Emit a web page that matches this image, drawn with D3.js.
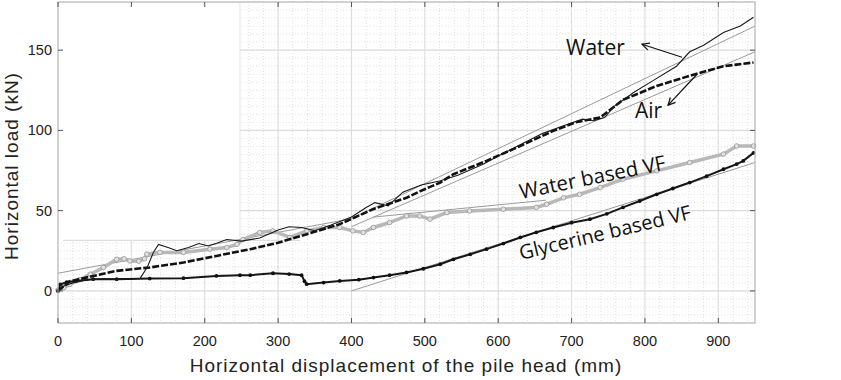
<!DOCTYPE html>
<html>
  <head>
    <meta charset="utf-8">
    <script src="https://cdnjs.cloudflare.com/ajax/libs/d3/7.8.5/d3.min.js"></script>
    <style type="text/css">
    body { margin: 0; background: #fff; }
    .tick-label { font-family: "Liberation Sans", Arial, sans-serif; font-size: 14.5px; fill: #222; }
    .axis-title { font-family: "Liberation Sans", Arial, sans-serif; font-size: 19px; fill: #222; letter-spacing: 1px; }
    .note { font-family: "Open Sans", sans-serif; font-size: 21px; fill: #111; }
    </style>
  </head>
  <body>
    <script type="text/javascript">
      // tick labels
      var xTicks = [0, 100, 200, 300, 400, 500, 600, 700, 800, 900];
      var yTicks = [0, 50, 100, 150];

      // Water (thin black line)
      var waterX = [0, 8, 20, 40, 60, 80, 100, 112, 122, 130, 137, 150, 162, 178, 192, 205, 218, 230, 250, 275, 300, 315, 332, 350, 372, 400, 420, 432, 450, 470, 495, 520, 545, 580, 600, 630, 660, 690, 715, 730, 745, 758, 784, 811, 843, 861, 880, 907, 930, 948];
      var waterY = [0, 3, 5, 7, 7.5, 7.5, 7.5, 7.8, 15, 24, 29, 27, 25, 27, 29.5, 28, 30, 32, 31, 33, 38, 40, 39.5, 37.5, 41, 46, 52, 55, 53, 61.5, 66, 68.5, 72, 79, 84, 91, 98, 103, 107, 106, 108, 115, 123.5, 131, 140, 149, 153, 161, 165, 170.5];

      // Air (dashed black)
      var airX = [0, 5, 16, 48, 80, 125, 171, 216, 262, 300, 339, 384, 430, 475, 493, 521, 539, 584, 630, 675, 705, 739, 770, 816, 861, 907, 948];
      var airY = [0, 2, 6, 9.3, 12.5, 14.6, 17.7, 21.8, 26, 30, 35.3, 41.6, 51, 58, 62, 67.5, 72.7, 81, 90.3, 99.7, 105, 108, 119, 127.7, 134, 140, 142.3];

      // Water based VF (grey circles)
      var wvfX = [0, 8, 16, 30, 44, 62, 80, 90, 98, 110, 118, 121, 139, 171, 207, 230, 244, 252, 275, 293, 316, 339, 362, 384, 402, 416, 430, 452, 475, 493, 507, 530, 561, 607, 652, 666, 689, 711, 739, 770, 816, 861, 907, 925, 948];
      var wvfY = [0.5, 2, 4, 7, 10.4, 14.6, 19.7, 20, 18.7, 18.5, 20, 22.9, 24, 24, 26, 27, 29, 32, 36.4, 37.4, 33.3, 37.4, 39.5, 39.5, 37.4, 36.4, 39.5, 42.6, 46.7, 46.7, 44.7, 48.8, 49.8, 50.9, 52, 54, 58, 60.2, 64.4, 69.6, 74.8, 80, 85.2, 90.3, 90.3];

      // Glycerine based VF (black dots)
      var gvfX = [0, 3, 12, 25, 48, 80, 125, 171, 216, 248, 262, 293, 315, 332, 336, 339, 362, 384, 410, 430, 452, 475, 498, 521, 539, 562, 584, 607, 630, 652, 675, 700, 725, 748, 770, 793, 816, 838, 861, 884, 907, 925, 934, 948];
      var gvfY = [0, 4, 5.5, 6.2, 7.3, 7.3, 7.7, 7.9, 9.3, 9.8, 9.8, 11, 10.5, 9.8, 6, 4.2, 5.2, 6.2, 7, 8.3, 9.8, 11.5, 13.8, 16.6, 19.7, 22.8, 26, 29.5, 33.3, 36.5, 39.5, 42.5, 44.7, 48, 52, 56, 60.2, 63.8, 67.5, 71.5, 75.8, 79, 81, 86];

      // thin grey fitted lines
      var fitWaterX = [0, 400, 950], fitWaterY = [11, 45, 165];
      var fitAirX = [400, 950], fitAirY = [40, 149];
      var fitWvfX = [430, 665], fitWvfY = [46, 56.5];
      var fitGvfX = [400, 950], fitGvfY = [0, 80];

      var w = 841, h = 380;
      var pL = 58, pR = 755, pT = 2, pB = 323;

      var svg = d3.select("body").append("svg")
                  .attr("width", w)
                  .attr("height", h);

      var x = d3.scaleLinear().domain([0, 950]).range([pL, pR]);
      var y = d3.scaleLinear().domain([-20, 180]).range([pB, pT]);

      // grid: minor dotted, then major
      var g = svg.append("g");
      g.selectAll(".vminor").data(d3.range(20, 950, 20))
        .enter().append("line")
        .attr("x1", function(d) { return x(d); }).attr("x2", function(d) { return x(d); })
        .attr("y1", pT).attr("y2", pB)
        .attr("stroke", "#d8d8d8").attr("stroke-width", 0.8).attr("stroke-dasharray", "1,2");
      g.selectAll(".hminor").data(d3.range(-15, 180, 5))
        .enter().append("line")
        .attr("x1", pL).attr("x2", pR)
        .attr("y1", function(d) { return y(d); }).attr("y2", function(d) { return y(d); })
        .attr("stroke", "#d8d8d8").attr("stroke-width", 0.8).attr("stroke-dasharray", "1,2");
      g.selectAll(".vmajor").data(xTicks.slice(1))
        .enter().append("line")
        .attr("x1", function(d) { return x(d); }).attr("x2", function(d) { return x(d); })
        .attr("y1", pT).attr("y2", pB)
        .attr("stroke", "#dcdcdc").attr("stroke-width", 1);
      g.selectAll(".hmajor").data(yTicks)
        .enter().append("line")
        .attr("x1", pL).attr("x2", pR)
        .attr("y1", function(d) { return y(d); }).attr("y2", function(d) { return y(d); })
        .attr("stroke", "#dcdcdc").attr("stroke-width", 1.2);

      // blank area top left (erased legend)
      svg.append("rect")
        .attr("x", pL).attr("y", pT)
        .attr("width", x(248) - pL).attr("height", y(31.5) - pT)
        .attr("fill", "#fff");
      svg.append("line")
        .attr("x1", x(248)).attr("x2", x(248)).attr("y1", pT).attr("y2", y(31.5))
        .attr("stroke", "#e2e2e2");
      svg.append("line")
        .attr("x1", x(7)).attr("x2", x(330)).attr("y1", y(31.5)).attr("y2", y(31.5))
        .attr("stroke", "#d6d6d6");

      function xy(xs, ys) { return xs.map(function(d, i) { return [d, ys[i]]; }); }
      var line = d3.line().x(function(d) { return x(d[0]); }).y(function(d) { return y(d[1]); });

      // fitted lines
      [[fitWaterX, fitWaterY], [fitAirX, fitAirY], [fitWvfX, fitWvfY], [fitGvfX, fitGvfY]].forEach(function(f) {
        svg.append("path").attr("d", line(xy(f[0], f[1])))
          .attr("fill", "none").attr("stroke", "#9a9a9a").attr("stroke-width", 1);
      });

      // water based VF
      var wvf = xy(wvfX, wvfY);
      svg.append("path").attr("d", line(wvf))
        .attr("fill", "none").attr("stroke", "#b8b8b8").attr("stroke-width", 3.5);
      svg.selectAll(".wvf").data(wvf).enter().append("circle")
        .attr("cx", function(d) { return x(d[0]); }).attr("cy", function(d) { return y(d[1]); })
        .attr("r", 2.3).attr("fill", "#e2e2e2").attr("stroke", "#979797").attr("stroke-width", 0.8);

      // glycerine based VF
      var gvf = xy(gvfX, gvfY);
      svg.append("path").attr("d", line(gvf))
        .attr("fill", "none").attr("stroke", "#161616").attr("stroke-width", 2);
      svg.selectAll(".gvf").data(gvf).enter().append("circle")
        .attr("cx", function(d) { return x(d[0]); }).attr("cy", function(d) { return y(d[1]); })
        .attr("r", 1.9).attr("fill", "#111");

      // air
      svg.append("path").attr("d", line(xy(airX, airY)))
        .attr("fill", "none").attr("stroke", "#111").attr("stroke-width", 2.6)
        .attr("stroke-dasharray", "7,2");

      // water
      svg.append("path").attr("d", line(xy(waterX, waterY)))
        .attr("fill", "none").attr("stroke", "#1a1a1a").attr("stroke-width", 1.1);

      // frame and inward ticks
      svg.append("rect")
        .attr("x", pL).attr("y", pT).attr("width", pR - pL).attr("height", pB - pT)
        .attr("fill", "none").attr("stroke", "#b4b4b4").attr("stroke-width", 1.2);
      xTicks.forEach(function(d) {
        svg.append("line").attr("x1", x(d)).attr("x2", x(d)).attr("y1", pB).attr("y2", pB - 5)
          .attr("stroke", "#555");
        svg.append("line").attr("x1", x(d)).attr("x2", x(d)).attr("y1", pT).attr("y2", pT + 5)
          .attr("stroke", "#555");
        svg.append("text").attr("class", "tick-label")
          .attr("x", x(d)).attr("y", 346).attr("text-anchor", "middle").text(d);
      });
      yTicks.forEach(function(d) {
        svg.append("line").attr("x1", pL).attr("x2", pL + 5).attr("y1", y(d)).attr("y2", y(d))
          .attr("stroke", "#555");
        svg.append("line").attr("x1", pR).attr("x2", pR - 5).attr("y1", y(d)).attr("y2", y(d))
          .attr("stroke", "#555");
        svg.append("text").attr("class", "tick-label")
          .attr("x", 52).attr("y", y(d) + 5).attr("text-anchor", "end").text(d);
      });

      // axis titles
      svg.append("text").attr("class", "axis-title")
        .attr("x", 406).attr("y", 372).attr("text-anchor", "middle")
        .text("Horizontal displacement of the pile head (mm)");
      svg.append("text").attr("class", "axis-title")
        .attr("transform", "translate(18," + 166 + ") rotate(-90)")
        .attr("text-anchor", "middle")
        .text("Horizontal load (kN)");

      // annotations
      svg.append("defs").append("marker")
        .attr("id", "arr").attr("viewBox", "0 0 10 10").attr("refX", 9).attr("refY", 5)
        .attr("markerWidth", 9).attr("markerHeight", 9).attr("markerUnits", "userSpaceOnUse")
        .attr("orient", "auto")
        .append("path").attr("d", "M1,1 L9,5 L1,9").attr("fill", "none").attr("stroke", "#111").attr("stroke-width", 1.4);

      var arrows = [[[850.5, 145.6], [796, 153.7]], [[871, 135], [831.5, 115.7]]];
      arrows.forEach(function(a) {
        svg.append("path").attr("d", line(a))
          .attr("stroke", "#111").attr("stroke-width", 1.2).attr("fill", "none")
          .attr("marker-end", "url(#arr)");
      });

      svg.append("text").attr("class", "note").attr("x", 566).attr("y", 55).text("Water");
      svg.append("text").attr("class", "note").attr("x", 635).attr("y", 118).text("Air");
      svg.append("text").attr("class", "note")
        .attr("transform", "translate(521,199) rotate(-11.5)").style("font-size", "20.5px")
        .text("Water based VF");
      svg.append("text").attr("class", "note")
        .attr("transform", "translate(521,260) rotate(-13.5)").style("font-size", "20px")
        .text("Glycerine based VF");
    </script>
  </body>
</html>
